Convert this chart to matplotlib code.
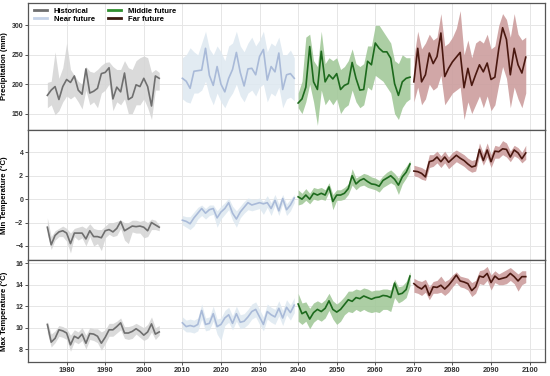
import numpy as np
import matplotlib.pyplot as plt

plt.rcParams['font.family'] = ['Liberation Sans', 'DejaVu Sans']

# anos de cada periodo
anos_hist = np.arange(1975, 2005)
anos_near = np.arange(2010, 2040)
anos_mid = np.arange(2040, 2070)
anos_far = np.arange(2070, 2100)

# Precipitacao (mm)
prec_hist = [181, 190, 196, 174, 196, 208, 203, 214, 190, 183, 226, 185, 188, 193, 218,
             220, 228, 175, 195, 187, 219, 174, 178, 199, 196, 210, 196, 163, 214, 210]
prec_hist_lo = [160, 165, 148, 155, 170, 180, 175, 180, 170, 158, 190, 165, 170, 160, 185,
                190, 200, 155, 170, 165, 175, 150, 150, 165, 165, 175, 160, 140, 190, 190]
prec_hist_hi = [203, 205, 255, 210, 228, 270, 225, 215, 205, 200, 230, 222, 220, 225, 232,
                237, 238, 230, 225, 225, 240, 228, 225, 240, 245, 248, 245, 220, 225, 220]
prec_near = [210, 205, 193, 222, 223, 224, 261, 215, 198, 230, 200, 187, 210, 225, 254,
             220, 197, 226, 227, 216, 247, 259, 207, 230, 221, 253, 191, 216, 218, 210]
prec_near_lo = [175, 170, 168, 185, 185, 190, 205, 180, 165, 185, 170, 160, 175, 185, 200,
                180, 170, 185, 190, 180, 195, 200, 170, 185, 180, 195, 160, 175, 178, 172]
prec_near_hi = [245, 250, 262, 255, 250, 270, 290, 260, 250, 265, 255, 240, 265, 270, 290,
                265, 255, 270, 280, 265, 275, 290, 255, 270, 265, 280, 250, 250, 258, 245]
prec_mid = [168, 175, 195, 264, 204, 191, 256, 204, 216, 209, 218, 191, 198, 201, 237,
            210, 190, 191, 239, 233, 270, 261, 255, 255, 244, 201, 181, 204, 210, 212]
prec_mid_lo = [160, 150, 170, 200, 170, 130, 190, 165, 175, 165, 175, 150, 160, 165, 190,
               170, 160, 165, 195, 190, 215, 210, 205, 195, 185, 150, 140, 160, 170, 175]
prec_mid_hi = [185, 205, 280, 285, 240, 230, 290, 235, 245, 240, 245, 225, 230, 240, 260,
               235, 230, 235, 265, 265, 300, 300, 290, 280, 270, 240, 235, 250, 245, 245]
prec_far = [204, 261, 204, 216, 253, 235, 247, 287, 213, 227, 238, 246, 254, 194, 227,
            198, 216, 233, 221, 236, 208, 212, 260, 296, 276, 216, 261, 233, 219, 246]
prec_far_lo = [170, 195, 165, 175, 200, 190, 195, 215, 165, 175, 185, 190, 195, 140, 170,
               150, 165, 180, 160, 180, 155, 165, 200, 230, 210, 160, 195, 175, 160, 185]
prec_far_hi = [245, 290, 260, 270, 285, 275, 280, 320, 265, 270, 280, 295, 325, 250, 275,
               245, 270, 275, 270, 285, 260, 265, 300, 320, 310, 280, 320, 285, 275, 280]

# Temperatura minima (C)
tmin_hist = [-2.4, -3.9, -3.1, -2.8, -2.7, -2.9, -3.8, -2.9, -2.9, -2.9, -3.4, -2.7, -3.2, -3.2, -3.3,
             -2.7, -2.6, -2.8, -2.5, -1.9, -2.7, -2.5, -2.3, -2.35, -2.3, -2.4, -2.7, -2.0, -2.2, -2.4]
tmin_hist_lo = [-3.0, -4.3, -3.5, -3.2, -3.2, -3.6, -4.6, -3.2, -3.5, -3.3, -4.0, -3.2, -4.0, -3.8, -4.4,
                -3.3, -3.0, -3.2, -3.1, -2.5, -3.5, -3.8, -2.8, -2.9, -2.9, -3.3, -3.2, -2.6, -2.6, -2.7]
tmin_hist_hi = [-1.6, -3.2, -2.7, -2.5, -2.3, -2.5, -2.9, -2.5, -2.4, -2.3, -2.5, -2.1, -2.5, -2.6, -2.6,
                -2.3, -2.0, -2.0, -1.9, -1.8, -2.0, -2.0, -1.8, -1.8, -1.9, -1.8, -2.0, -1.7, -1.8, -2.2]
tmin_near = [-1.8, -1.9, -2.1, -1.6, -1.2, -0.8, -1.2, -0.9, -0.8, -1.6, -1.1, -0.8, -0.3, -1.2, -1.7,
             -1.1, -0.7, -0.3, -0.5, -0.4, -0.3, -0.4, -0.3, -0.8, -0.1, -1.0, 0.05, -0.9, -0.5, 0.1]
tmin_near_lo = [-2.2, -2.4, -2.6, -2.3, -1.7, -1.4, -1.7, -1.4, -1.3, -2.4, -1.7, -1.3, -0.9, -1.8, -2.4,
                -1.6, -1.2, -0.9, -1.0, -0.9, -0.8, -1.3, -0.7, -1.4, -0.5, -1.4, -0.4, -1.4, -1.0, -0.3]
tmin_near_hi = [-1.4, -1.5, -1.5, -1.1, -0.7, -0.5, -0.8, -0.5, -0.5, -1.0, -0.6, -0.3, 0.1, -0.6, -1.0,
                -0.6, -0.2, 0.1, 0.0, 0.0, 0.1, -0.2, 0.3, -0.3, 0.4, -0.4, 0.4, -0.4, 0.0, 0.4]
tmin_mid = [0.2, 0.0, 0.35, 0.0, 0.5, 0.35, 0.5, 0.35, 1.05, -0.2, 0.35, 0.35, 0.5, 0.9, 2.0,
            1.3, 1.6, 1.75, 1.5, 1.3, 1.25, 1.1, 1.6, 1.8, 2.0, 1.7, 1.2, 1.9, 2.3, 3.0]
tmin_mid_lo = [-0.5, -0.4, -0.1, -0.4, 0.0, -0.1, 0.0, -0.1, 0.6, -0.9, -0.1, -0.1, 0.0, 0.4, 1.2,
               0.8, 1.1, 1.2, 1.0, 0.9, 0.8, 0.6, 1.0, 1.2, 1.4, 1.2, 0.4, 1.3, 1.8, 2.4]
tmin_mid_hi = [0.8, 0.5, 0.9, 0.5, 1.0, 0.9, 1.0, 0.8, 1.4, 0.4, 0.8, 0.8, 1.0, 1.3, 2.6,
               1.8, 2.0, 2.2, 2.1, 1.9, 1.8, 1.6, 2.0, 2.3, 2.5, 2.2, 1.8, 2.4, 2.8, 3.3]
tmin_far = [2.4, 2.35, 2.2, 1.9, 3.2, 3.3, 3.6, 3.2, 3.6, 3.15, 3.45, 3.75, 3.5, 3.3, 3.0,
            2.75, 2.85, 4.25, 3.3, 4.2, 3.2, 4.1, 4.05, 4.3, 4.25, 3.6, 4.2, 3.95, 3.45, 3.95]
tmin_far_lo = [2.0, 1.9, 1.7, 1.6, 2.7, 2.8, 3.1, 2.7, 3.1, 2.6, 2.9, 3.2, 3.0, 2.8, 2.5,
               2.3, 2.4, 3.7, 2.9, 3.6, 2.7, 3.5, 3.5, 3.8, 3.6, 3.2, 3.7, 3.5, 3.1, 3.4]
tmin_far_hi = [2.9, 2.8, 2.7, 2.5, 3.8, 3.8, 4.1, 3.7, 4.1, 3.6, 4.0, 4.2, 4.0, 3.8, 3.5,
               3.3, 3.4, 4.8, 3.9, 4.8, 3.8, 4.6, 4.5, 5.0, 4.8, 4.1, 4.6, 4.4, 4.0, 4.6]

# Temperatura maxima (C)
tmax_hist = [10.3, 8.65, 9.0, 9.8, 9.7, 9.5, 8.4, 9.2, 9.0, 9.4, 8.55, 9.45, 9.4, 9.2, 8.55,
             9.1, 9.8, 9.8, 10.1, 10.45, 9.5, 9.5, 9.65, 9.9, 9.65, 9.3, 9.6, 10.35, 9.4, 9.6]
tmax_hist_lo = [9.5, 8.2, 8.6, 9.2, 9.1, 8.9, 7.8, 8.7, 8.5, 8.8, 8.0, 8.9, 8.8, 8.6, 7.9,
                8.5, 9.2, 9.2, 9.5, 9.8, 9.0, 8.9, 9.0, 9.4, 9.1, 8.8, 9.0, 9.6, 8.9, 9.3]
tmax_hist_hi = [10.6, 9.4, 9.7, 10.2, 10.1, 9.9, 9.3, 9.8, 9.6, 10.0, 9.3, 10.0, 9.9, 9.9, 9.6,
                9.8, 10.4, 10.4, 10.6, 10.9, 10.1, 10.1, 10.2, 10.4, 10.2, 10.0, 10.3, 11.0, 10.0, 10.2]
tmax_near = [10.45, 10.1, 10.2, 10.1, 10.3, 11.6, 10.3, 10.4, 11.3, 10.1, 10.3, 10.9, 11.2, 10.4, 11.3,
             10.5, 10.6, 11.0, 11.5, 11.7, 11.0, 10.3, 11.5, 11.2, 11.0, 11.8, 10.9, 11.9, 11.4, 12.1]
tmax_near_lo = [9.9, 9.6, 9.6, 9.5, 9.7, 10.8, 9.7, 9.8, 10.6, 9.4, 8.8, 10.2, 10.5, 9.8, 10.6,
                9.9, 10.0, 10.3, 10.8, 11.0, 10.3, 9.7, 10.8, 10.5, 10.3, 11.1, 10.2, 11.2, 10.7, 11.4]
tmax_near_hi = [11.0, 10.7, 10.8, 10.7, 10.9, 12.2, 10.9, 11.0, 12.0, 10.8, 10.9, 11.6, 11.9, 11.1, 12.0,
                11.2, 11.3, 11.7, 12.2, 12.4, 11.7, 11.0, 12.2, 11.9, 11.7, 12.5, 11.6, 12.6, 12.1, 12.8]
tmax_mid = [12.2, 11.3, 11.5, 10.8, 11.4, 11.7, 11.5, 11.8, 12.5, 11.7, 11.45, 11.7, 12.15, 12.6, 12.45,
            12.8, 12.7, 12.95, 12.8, 12.65, 12.8, 12.85, 13.0, 12.95, 12.8, 14.15, 13.1, 13.2, 13.55, 14.8]
tmax_mid_lo = [10.6, 10.3, 10.6, 9.9, 10.5, 10.8, 10.6, 10.9, 11.6, 10.8, 10.3, 10.6, 11.2, 11.5, 11.4,
               11.7, 11.5, 11.7, 11.5, 11.4, 11.5, 11.4, 11.7, 11.7, 11.5, 12.8, 12.3, 12.5, 12.8, 13.9]
tmax_mid_hi = [13.2, 12.3, 12.4, 11.8, 12.3, 12.5, 12.3, 12.6, 13.2, 12.5, 12.2, 12.5, 12.9, 13.4, 13.4,
               13.6, 13.5, 13.7, 13.6, 13.4, 13.5, 13.5, 13.6, 13.6, 13.5, 14.5, 13.8, 13.9, 14.3, 15.2]
tmax_far = [14.1, 13.8, 13.6, 13.95, 13.0, 13.8, 13.75, 13.95, 13.6, 13.95, 14.4, 14.9, 14.35, 14.25, 14.1,
            13.45, 13.8, 14.8, 14.7, 15.05, 14.2, 14.8, 14.5, 14.6, 14.7, 15.05, 14.75, 14.35, 14.75, 14.75]
tmax_far_lo = [13.3, 13.2, 13.0, 13.3, 12.6, 13.2, 13.2, 13.3, 13.0, 13.3, 13.8, 14.2, 13.8, 13.7, 13.5,
               12.9, 13.2, 14.1, 14.0, 14.4, 13.5, 14.2, 14.0, 14.0, 14.1, 14.4, 14.1, 13.4, 14.0, 14.2]
tmax_far_hi = [14.6, 14.4, 14.3, 14.5, 13.8, 14.3, 14.4, 14.8, 14.3, 14.5, 14.9, 15.2, 14.8, 14.7, 14.6,
               14.2, 14.4, 15.3, 15.4, 15.7, 14.9, 15.3, 15.0, 15.2, 15.4, 15.6, 15.3, 15.0, 15.3, 15.3]

# cores: (linha, faixa)
cores = {
    'Historical': ('#6f6f6f', '#d6d6d6'),
    'Near future': ('#a9bad8', '#dfe9f1'),
    'Middle future': ('#1d6a1d', '#a3c99a'),
    'Far future': ('#4a1810', '#cc9e9e'),
}
cor_legenda = {'Historical': '#6f6f6f', 'Near future': '#c5d3e8',
               'Middle future': '#2f8f2f', 'Far future': '#3a1a10'}

paineis = [
    ('Precipitation (mm)', [prec_hist, prec_near, prec_mid, prec_far],
     [prec_hist_lo, prec_near_lo, prec_mid_lo, prec_far_lo],
     [prec_hist_hi, prec_near_hi, prec_mid_hi, prec_far_hi],
     (122, 338), [150, 200, 250, 300]),
    ('Min Temperature (°C)', [tmin_hist, tmin_near, tmin_mid, tmin_far],
     [tmin_hist_lo, tmin_near_lo, tmin_mid_lo, tmin_far_lo],
     [tmin_hist_hi, tmin_near_hi, tmin_mid_hi, tmin_far_hi],
     (-5.2, 5.9), [-4, -2, 0, 2, 4]),
    ('Max Temperature (°C)', [tmax_hist, tmax_near, tmax_mid, tmax_far],
     [tmax_hist_lo, tmax_near_lo, tmax_mid_lo, tmax_far_lo],
     [tmax_hist_hi, tmax_near_hi, tmax_mid_hi, tmax_far_hi],
     (6.8, 16.3), [8, 10, 12, 14, 16]),
]

anos = [anos_hist, anos_near, anos_mid, anos_far]
nomes = list(cores.keys())

fig = plt.figure(figsize=(5.5, 3.76), dpi=100)
posicoes = [[0.051, 0.654, 0.94, 0.338],
            [0.051, 0.3085, 0.94, 0.3455],
            [0.051, 0.0372, 0.94, 0.2713]]

for i, (rotulo, series, lows, highs, ylim, yticks) in enumerate(paineis):
    ax = fig.add_axes(posicoes[i])
    for nome, x, y, lo, hi in zip(nomes, anos, series, lows, highs):
        cl, cf = cores[nome]
        ax.fill_between(x, lo, hi, color=cf, alpha=0.9, linewidth=0, zorder=1)
        ax.plot(x, y, color=cl, linewidth=1.2, zorder=3)
    ax.set_xlim(1970, 2104)
    ax.set_ylim(*ylim)
    ax.set_yticks(yticks)
    ax.set_xticks(np.arange(1980, 2101, 10))
    ax.grid(True, color='#e6e6e6', linewidth=0.7, zorder=0)
    ax.set_axisbelow(True)
    ax.set_ylabel(rotulo, fontsize=5.6, fontweight='bold')
    ax.yaxis.set_label_coords(-0.039, 0.5)
    ax.tick_params(axis='y', labelsize=5, length=2, width=0.6, pad=1.5, colors='#333333')
    ax.tick_params(axis='x', labelsize=5.4, length=2, width=0.6, pad=1.5, colors='#333333')
    for lab in ax.get_yticklabels() + ax.get_xticklabels():
        lab.set_fontweight('bold')
    for s in ax.spines.values():
        s.set_color('#555555')
        s.set_linewidth(0.9)
    if i < 2:
        ax.tick_params(labelbottom=False, bottom=False)
    if i == 0:
        handles = [plt.Line2D([], [], color=cor_legenda[n], linewidth=2) for n in nomes]
        ax.legend(handles, nomes, loc='upper left', ncol=2, frameon=False,
                  prop={'size': 5.5, 'weight': 'bold'}, handlelength=1.7,
                  handletextpad=0.8, columnspacing=1.8, labelspacing=0.15,
                  borderaxespad=0.0, borderpad=0.3,
                  bbox_to_anchor=(0.008, 0.985))

fig.savefig('out.png', dpi=100)
